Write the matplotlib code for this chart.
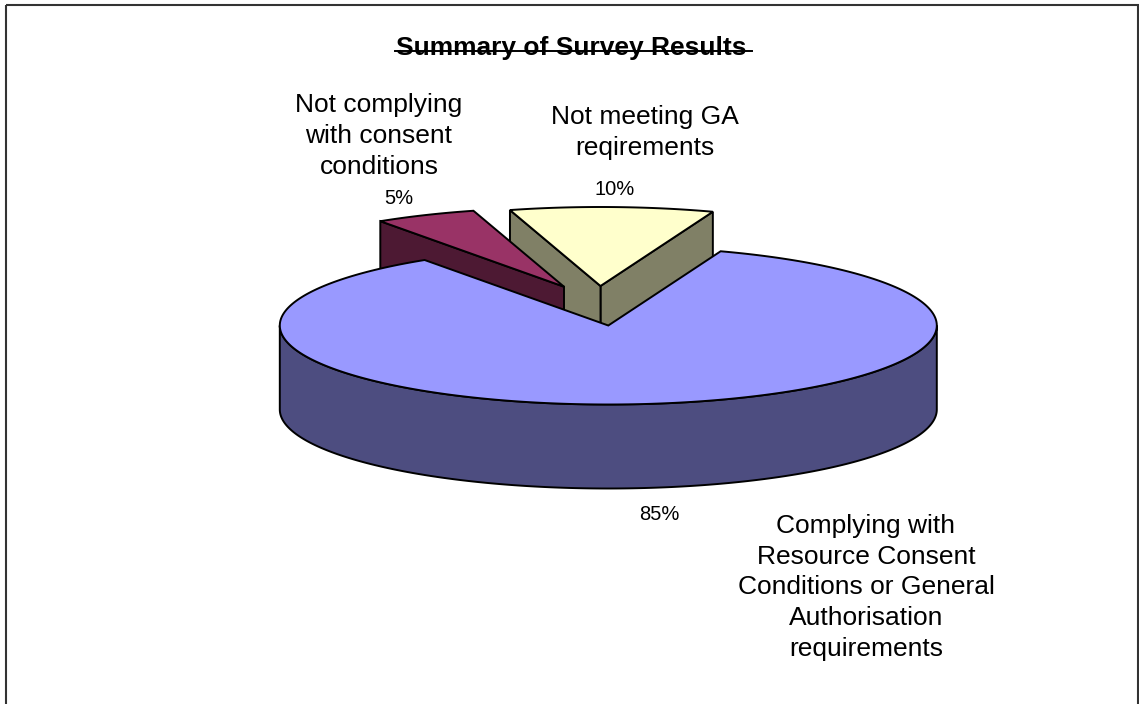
import numpy as np
import matplotlib
matplotlib.use("Agg")
import matplotlib.pyplot as plt
from matplotlib.patches import Polygon, Rectangle

############## Data ##############
categories = ["Not meeting GA\nreqirements",
              "Not complying\nwith consent\nconditions",
              "Complying with\nResource Consent\nConditions or General\nAuthorisation\nrequirements"]
values = [10, 5, 85]
percent_labels = ["10%", "5%", "85%"]

############## Style ##############
plt.rcParams["font.family"] = ["Liberation Sans", "DejaVu Sans"]
top_colors = ["#ffffcc", "#993366", "#9999ff"]
side_colors = ["#808066", "#4d1933", "#4d4d80"]
edge_lw = 1.4

# pie geometry in pixels
cx, cy = 608.3, 325.5
rx, ry = 328.5, 79
depth = 84
start_angle = 70
# how far each slice is pulled out of the pie
explode = [(-7.8, -39.5), (-44.3, -38.8), (0, 0)]
label_xy = [(644.7, 132.5), (379, 136), (866, 587.5)]
percent_xy = [(615, 189.5), (399, 199), (659, 515)]

fig = plt.figure(figsize=(11.39, 7.04), dpi=100)
ax = fig.add_axes([0, 0, 1, 1])
ax.set_xlim(0, 1139)
ax.set_ylim(704, 0)
ax.axis("off")


def arc(x0, y0, a0, a1):
    t = np.radians(np.linspace(a0, a1, 300))
    return np.column_stack([x0 + rx * np.cos(t), y0 - ry * np.sin(t)])


def shape(pts, color, z):
    ax.add_patch(Polygon(pts, closed=True, facecolor=color, edgecolor="black",
                         linewidth=edge_lw, joinstyle="miter", zorder=z))


def radial_wall(x0, y0, a, color, z):
    p = arc(x0, y0, a, a)[0]
    shape([(x0, y0), p, (p[0], p[1] + depth), (x0, y0 + depth)], color, z)


# slice limits come from the values
angles = start_angle + np.cumsum([0] + values) * 3.6

# Yellow first, purple lies over its wall, big slice over both
for i, z in [(0, 1), (1, 2)]:
    a0, a1 = angles[i], angles[i + 1]
    x0, y0 = cx + explode[i][0], cy + explode[i][1]
    if i == 0:
        radial_wall(x0, y0, a0, side_colors[i], z)
    radial_wall(x0, y0, a1, side_colors[i], z)
    shape(np.vstack([[(x0, y0)], arc(x0, y0, a0, a1)]), top_colors[i], z + 0.5)

# Big slice: outer wall first, then top
a0, a1 = angles[2], angles[3]
front = arc(cx, cy, 180, 360)
shape(np.vstack([front, arc(cx, cy + depth, 360, 180)]), side_colors[2], 3)
shape(np.vstack([[(cx, cy)], arc(cx, cy, a0, a1)]), top_colors[2], 4)

############## Text ##############
for name, (x, y) in zip(categories, label_xy):
    ax.text(x, y, name, ha="center", va="center", fontsize=19, linespacing=1.36,
            color="black", zorder=6)
for pct, (x, y) in zip(percent_labels, percent_xy):
    ax.text(x, y, pct, ha="center", va="center", fontsize=14.5, color="black", zorder=6)

ax.text(571.5, 48.5, "Summary of Survey Results", ha="center", va="center",
        fontsize=19, fontweight="bold", color="black", zorder=6)
# the line running through the title
ax.plot([395, 752], [51, 51], color="black", linewidth=1.4, zorder=7)

# Chart frame, its lower edge is cut off
ax.add_patch(Rectangle((5.5, 4.5), 1132, 720, facecolor="none", edgecolor="#333333",
                       linewidth=1.5, zorder=8))

plt.savefig("out.png", dpi=100)
